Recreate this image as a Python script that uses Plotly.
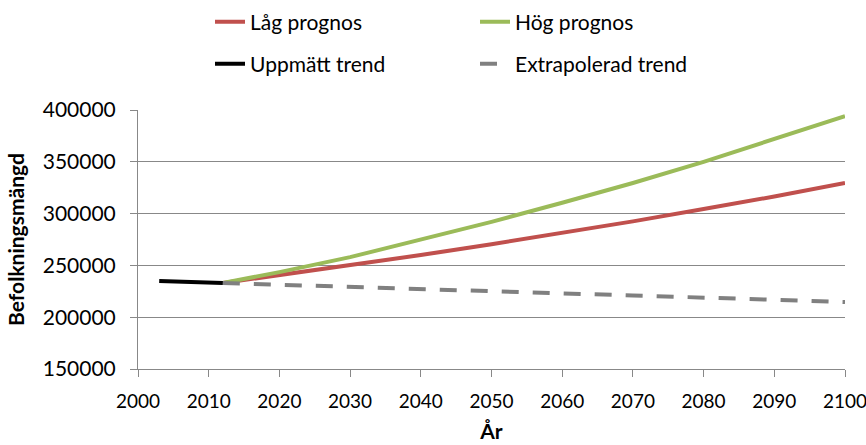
import plotly.graph_objects as go

years_meas = [2003, 2005, 2008, 2010, 2012]
meas = [235000, 234500, 233800, 233400, 233000]

years_proj = [2012, 2020, 2030, 2040, 2050, 2060, 2070, 2080, 2090, 2100]
low = [233000, 240500, 250000, 260000, 270500, 281500, 292500, 304500, 316500, 329500]
high = [233000, 243500, 258000, 275000, 292000, 310500, 329500, 350000, 371500, 394000]
extrap = [233000, 231500, 229500, 227000, 225000, 223000, 221000, 219000, 217000, 214700]

FONT = "Lato"
FS = 21
fig = go.Figure()
fig.add_trace(go.Scatter(x=years_proj, y=low, mode="lines", name="Låg prognos",
                         line=dict(color="#C0504D", width=4), legend="legend"))
fig.add_trace(go.Scatter(x=years_proj, y=high, mode="lines", name="Hög prognos",
                         line=dict(color="#9BBB59", width=4), legend="legend"))
fig.add_trace(go.Scatter(x=years_proj, y=extrap, mode="lines", name="Extrapolerad trend",
                         line=dict(color="#808080", width=4, dash="17px,14px"), legend="legend2"))
fig.add_trace(go.Scatter(x=years_meas, y=meas, mode="lines", name="Uppmätt trend",
                         line=dict(color="#000000", width=4), legend="legend2"))

leg_common = dict(orientation="h", x=210/866, xref="container", xanchor="left",
                  yref="container", yanchor="middle",
                  entrywidth=220, entrywidthmode="pixels",
                  font=dict(size=FS), itemwidth=30, bgcolor="rgba(0,0,0,0)")

fig.update_layout(
    width=866, height=445,
    margin=dict(l=138, r=21, t=110, b=76),
    plot_bgcolor="white", paper_bgcolor="white",
    font=dict(family=FONT, size=FS, color="#000000"),
    legend=dict(**leg_common, y=1 - 22/445, traceorder="normal"),
    legend2=dict(**leg_common, y=1 - 64/445, traceorder="reversed"),
    xaxis=dict(range=[2000, 2100], tickmode="array",
               tickvals=list(range(2000, 2101, 10)),
               showgrid=False, showline=True, linecolor="#888888", linewidth=1,
               ticks="outside", ticklen=7, tickcolor="#888888", zeroline=False,
               ticklabelstandoff=8, automargin=False, tickfont=dict(size=19),
               ticklabeloverflow="allow",
               title=dict(text="<b>År</b>", font=dict(size=FS), standoff=13)),
    yaxis=dict(range=[150000, 400000], tickmode="array",
               tickvals=[150000, 200000, 250000, 300000, 350000, 400000],
               ticktext=["150000", "200000", "250000", "300000", "350000", "400000"],
               showgrid=True, gridcolor="#888888", gridwidth=1,
               showline=True, linecolor="#888888", linewidth=1,
               ticks="outside", ticklen=7, tickcolor="#888888", zeroline=False,
               ticklabelstandoff=10, automargin=False,
               title=dict(text="<b>Befolkningsmängd</b>", font=dict(size=FS), standoff=12)),
)

fig.write_html("out.html", config={"displayModeBar": False},
               post_script="document.body.style.margin='0';document.body.style.overflow='hidden';")
